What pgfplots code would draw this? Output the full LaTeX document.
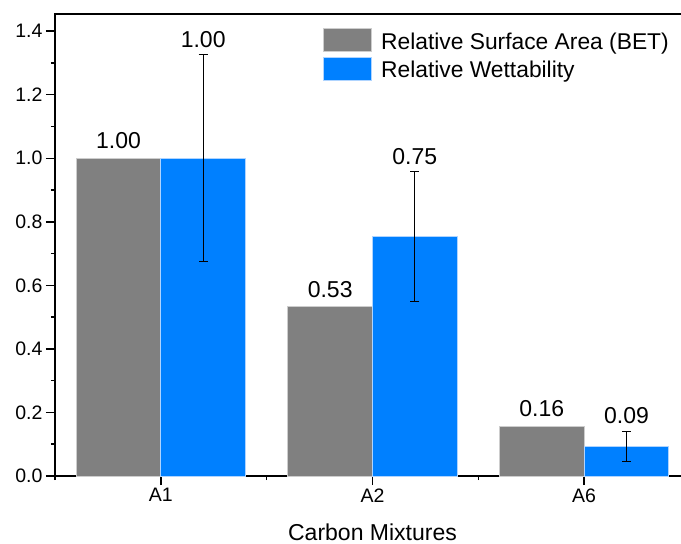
\documentclass[border=0pt]{standalone}
\usepackage{pgfplots}
\pgfplotsset{compat=1.18}
\usepackage{fontspec}
\setmainfont{Liberation Sans}
\definecolor{bgray}{RGB}{128,128,128}
\definecolor{bgrayedge}{RGB}{205,205,205}
\definecolor{bblue}{RGB}{0,128,255}
\definecolor{bblueedge}{RGB}{175,212,255}
\pgfplotsset{mylegend/.style={legend image code/.code={\draw[##1] (0pt,-10pt) rectangle (48pt,13pt); \path (57pt,0pt);}}}
\begin{document}
\begin{tikzpicture}
\begin{scope}
\clip (-55pt,-68pt) rectangle (626pt,476pt);
\begin{axis}[
  at={(0pt,0pt)}, anchor=south west,
  scale only axis, width=635pt, height=462pt,
  xmin=-0.5, xmax=2.5, ymin=0, ymax=1.454,
  xtick={0,1,2}, xticklabels={A1,A2,A6},
  minor xtick={-0.5,0.5,1.5,2.5},
  ytick={0,0.2,0.4,0.6,0.8,1.0,1.2,1.4},
  minor ytick={0.1,0.3,0.5,0.7,0.9,1.1,1.3},
  yticklabel style={/pgf/number format/.cd, fixed, fixed zerofill, precision=1},
  /pgf/number format/assume math mode=true,
  tick label style={font=\fontsize{19.5}{22}\selectfont, text=black},
  tick pos=left, tick align=outside,
  major tick length=9pt, minor tick length=4pt,
  tick style={line width=1.5pt, black},
  axis line style={line width=1.8pt},
  xlabel={Carbon Mixtures},
  xlabel style={font=\fontsize{23}{27}\selectfont, at={(axis description cs:0.5,0)}, anchor=base, yshift=-64pt},
  legend style={draw=none, fill=none, at={(0.422,0.9695)}, anchor=north west, inner sep=0pt,
    nodes={inner sep=0pt}, font=\fontsize{22.8}{27}\selectfont, row sep=4.5pt},
  legend cell align=left,
]
\addplot[ybar, bar width=0.4, bar shift=-0.2, fill=bgray, draw=bgrayedge, line width=1pt, mylegend]
  coordinates {(0,1.00) (1,0.532) (2,0.157)};
\addlegendentry{Relative Surface Area (BET)}
\addplot[ybar, bar width=0.4, bar shift=0.2, fill=bblue, draw=bblueedge, line width=1pt, mylegend]
  coordinates {(0,1.00) (1,0.754) (2,0.093)};
\addlegendentry{Relative Wettability}
% error bars of the blue bars, at the blue bar centres
\addplot[forget plot, draw=none, mark=none,
  error bars/.cd, y dir=both, y explicit,
  error bar style={black, line width=1pt},
  error mark options={rotate=90, mark size=4.5pt, black, line width=1pt}]
  coordinates {(0.2,1.00) +- (0,0.325) (1.2,0.754) +- (0,0.204) (2.2,0.093) +- (0,0.048)};
\addplot[forget plot, draw=none, mark=none, nodes near coords, point meta=explicit symbolic,
  nodes near coords style={anchor=south, font=\fontsize{23}{26}\selectfont, inner sep=0pt, yshift=9pt, text=black}]
  coordinates {(-0.2,1.00) [1.00] (0.8,0.532) [0.53] (1.8,0.157) [0.16]};
\addplot[forget plot, draw=none, mark=none, nodes near coords, point meta=explicit symbolic,
  nodes near coords style={anchor=south, font=\fontsize{23}{26}\selectfont, inner sep=0pt, yshift=7pt, text=black}]
  coordinates {(0.2,1.325) [1.00] (1.2,0.958) [0.75] (2.2,0.141) [0.09]};
\end{axis}
\end{scope}
\pgfresetboundingbox
\useasboundingbox (-55pt,-68pt) rectangle (626pt,476pt);
\end{tikzpicture}
\end{document}
